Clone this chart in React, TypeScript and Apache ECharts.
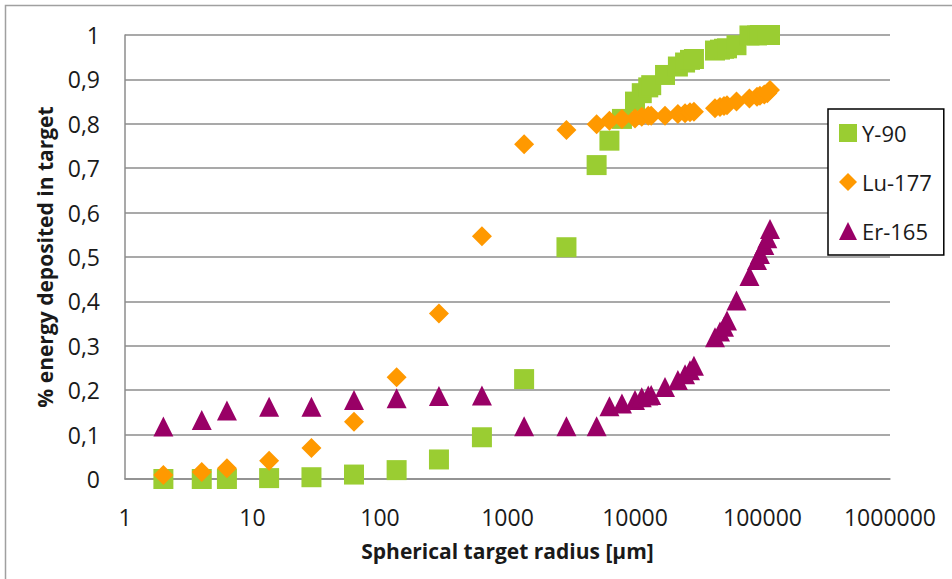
import React, { useEffect, useRef } from "react";
import * as echarts from "echarts";

// Spherical target radius [µm]
const radii: number[] = [
  2, 4, 6.3, 13.5, 29, 62.5, 135, 290, 630, 1350, 2900,
  5000, 6300, 7900, 10000, 11300, 12700, 13400, 17200, 21700, 24700, 27000, 29000,
  42400, 46400, 49900, 52700, 62500, 79000, 90600, 95500, 103300, 109100, 114500,
];

const y90: number[] = [
  0, 0, 0, 0.002, 0.004, 0.01, 0.02, 0.044, 0.094, 0.225, 0.522,
  0.707, 0.762, 0.811, 0.85, 0.869, 0.882, 0.887, 0.91, 0.929, 0.938, 0.944, 0.946,
  0.965, 0.967, 0.969, 0.97, 0.977, 0.999, 0.999, 1.0, 1.0, 1.0, 1.0,
];

const lu177: number[] = [
  0.009, 0.016, 0.024, 0.041, 0.07, 0.129, 0.229, 0.373, 0.547, 0.754, 0.786,
  0.799, 0.807, 0.811, 0.812, 0.816, 0.818, 0.818, 0.818, 0.822, 0.824, 0.826, 0.827,
  0.835, 0.838, 0.84, 0.842, 0.85, 0.857, 0.861, 0.863, 0.866, 0.869, 0.876,
];

const er165: number[] = [
  0.118, 0.133, 0.154, 0.163, 0.163, 0.178, 0.182, 0.187, 0.188, 0.119, 0.119,
  0.119, 0.164, 0.17, 0.178, 0.184, 0.188, 0.189, 0.207, 0.223, 0.236, 0.245, 0.255,
  0.319, 0.332, 0.343, 0.357, 0.402, 0.457, 0.493, 0.507, 0.527, 0.542, 0.563,
];

const seriesNames = ["Y-90", "Lu-177", "Er-165"];
const xTitle = "Spherical target radius [µm]";
const yTitle = "% energy deposited in target";

const FONT = '"Open Sans", "Noto Sans", sans-serif';

export default function App() {
  const ref = useRef<HTMLDivElement>(null);

  useEffect(() => {
    document.body.style.margin = "0";
    if (!ref.current) return;
    const chart = echarts.init(ref.current, undefined, { renderer: "svg" });
    const pair = (ys: number[]) => radii.map((x, i) => [x, ys[i]]);

    chart.setOption({
      animation: false,
      backgroundColor: "#ffffff",
      textStyle: { fontFamily: FONT },
      graphic: [
        {
          type: "rect",
          shape: { x: 5.5, y: 5.5, width: 1000, height: 1000 },
          style: { fill: "none", stroke: "#a0a0a0", lineWidth: 1.5 },
          silent: true,
          z: -1,
        },
      ],
      grid: { left: 125, top: 35, right: 62, bottom: 100, containLabel: false },
      legend: {
        orient: "vertical",
        left: 828,
        top: 109,
        padding: [13, 12, 13, 11],
        itemGap: 27,
        itemWidth: 18,
        itemHeight: 18,
        borderColor: "#000000",
        borderWidth: 1.5,
        backgroundColor: "#ffffff",
        textStyle: { fontFamily: FONT, fontSize: 22, color: "#1a1a1a", lineHeight: 22 },
        data: [
          { name: seriesNames[0], icon: "rect" },
          { name: seriesNames[1], icon: "diamond" },
          { name: seriesNames[2], icon: "triangle" },
        ],
      },
      xAxis: {
        type: "log",
        logBase: 10,
        min: 1,
        max: 1000000,
        name: xTitle,
        nameLocation: "middle",
        nameGap: 61,
        nameTextStyle: { fontFamily: FONT, fontSize: 21, fontWeight: "bold", color: "#1a1a1a" },
        axisLine: { show: true, lineStyle: { color: "#8c8c8c", width: 1.5 } },
        axisTick: { show: false },
        splitLine: { show: false },
        minorSplitLine: { show: false },
        axisLabel: {
          margin: 26,
          fontFamily: FONT,
          fontSize: 23,
          color: "#1a1a1a",
          formatter: (v: number) => String(Math.round(v)),
        },
      },
      yAxis: {
        type: "value",
        min: 0,
        max: 1,
        interval: 0.1,
        name: yTitle,
        nameLocation: "middle",
        nameGap: 70,
        nameRotate: 90,
        nameTextStyle: { fontFamily: FONT, fontSize: 21, fontWeight: "bold", color: "#1a1a1a" },
        axisLine: { show: true, lineStyle: { color: "#8c8c8c", width: 1.5 } },
        axisTick: { show: false },
        splitLine: { show: true, lineStyle: { color: "#8c8c8c", width: 1.5 } },
        axisLabel: {
          margin: 25,
          fontFamily: FONT,
          fontSize: 23,
          color: "#1a1a1a",
          formatter: (v: number) => String(Math.round(v * 10) / 10).replace(".", ","),
        },
      },
      series: [
        {
          name: seriesNames[0],
          type: "scatter",
          symbol: "rect",
          symbolSize: 20,
          itemStyle: { color: "#9ACD32", opacity: 1 },
          data: pair(y90),
        },
        {
          name: seriesNames[1],
          type: "scatter",
          symbol: "diamond",
          symbolSize: 20,
          itemStyle: { color: "#FF9900", opacity: 1 },
          data: pair(lu177),
        },
        {
          name: seriesNames[2],
          type: "scatter",
          symbol: "triangle",
          symbolSize: 20,
          itemStyle: { color: "#990066", opacity: 1 },
          data: pair(er165),
        },
      ],
    });

    return () => chart.dispose();
  }, []);

  return <div ref={ref} style={{ width: 952, height: 579 }} />;
}
